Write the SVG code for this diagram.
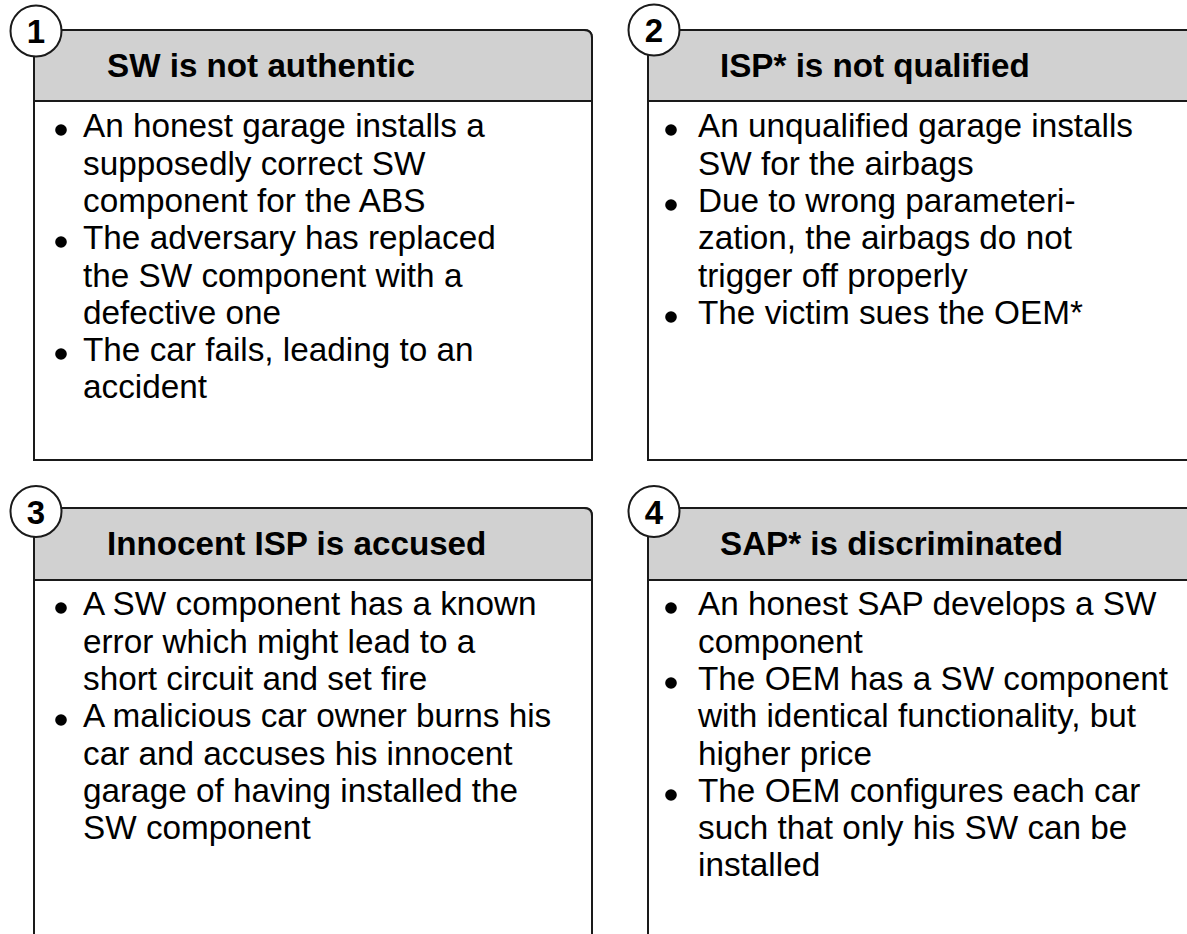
<svg xmlns="http://www.w3.org/2000/svg" width="1187" height="934" viewBox="0 0 1187 934">
  <defs>
    <style>
      .frame { fill: #ffffff; stroke: #1a1a1a; stroke-width: 2; }
      .head { fill: #d1d1d1; stroke: #1a1a1a; stroke-width: 2; }
      .badge { fill: #ffffff; stroke: #1a1a1a; stroke-width: 2; }
      .num { font-family: "Liberation Sans", Arial, sans-serif; font-weight: bold; font-size: 33px; fill: #000; text-anchor: middle; }
      .title { font-family: "Liberation Sans", Arial, sans-serif; font-weight: bold; font-size: 33.2px; fill: #000; }
      .body { font-family: "Liberation Sans", Arial, sans-serif; font-size: 33.3px; fill: #000; }
      .dot { fill: #000; }
    </style>
  </defs>

  <rect width="1187" height="934" fill="#ffffff"/>

  <!-- Panel 1 -->
  <g id="panel1">
    <path class="frame" d="M34,460 V38 Q34,30 42,30 H584 Q592,30 592,38 V460 Z"/>
    <path class="head" d="M34,101 V38 Q34,30 42,30 H584 Q592,30 592,38 V101 Z"/>
    <circle class="badge" cx="36" cy="31" r="25.5"/>
    <text class="num" x="36" y="43">1</text>
    <text class="title" x="107" y="77">SW is not authentic</text>
    <circle class="dot" cx="61" cy="130" r="5.8"/>
    <circle class="dot" cx="61" cy="242" r="5.8"/>
    <circle class="dot" cx="61" cy="354" r="5.8"/>
    <text class="body" x="83">
      <tspan x="83" y="137">An honest garage installs a</tspan>
      <tspan x="83" y="174.5">supposedly correct SW</tspan>
      <tspan x="83" y="212">component for the ABS</tspan>
      <tspan x="83" y="249">The adversary has replaced</tspan>
      <tspan x="83" y="286.5">the SW component with a</tspan>
      <tspan x="83" y="324">defective one</tspan>
      <tspan x="83" y="361">The car fails, leading to an</tspan>
      <tspan x="83" y="398">accident</tspan>
    </text>
  </g>

  <!-- Panel 2 -->
  <g id="panel2">
    <path class="frame" d="M648,460 V38 Q648,30 656,30 H1198 Q1206,30 1206,38 V460 Z"/>
    <path class="head" d="M648,101 V38 Q648,30 656,30 H1198 Q1206,30 1206,38 V101 Z"/>
    <circle class="badge" cx="654" cy="30" r="25.5"/>
    <text class="num" x="654" y="42">2</text>
    <text class="title" x="720" y="77">ISP* is not qualified</text>
    <circle class="dot" cx="671" cy="130" r="5.8"/>
    <circle class="dot" cx="671" cy="205" r="5.8"/>
    <circle class="dot" cx="671" cy="317" r="5.8"/>
    <text class="body" x="698">
      <tspan x="698" y="137">An unqualified garage installs</tspan>
      <tspan x="698" y="174.5">SW for the airbags</tspan>
      <tspan x="698" y="212">Due to wrong parameteri-</tspan>
      <tspan x="698" y="249">zation, the airbags do not</tspan>
      <tspan x="698" y="286.5">trigger off properly</tspan>
      <tspan x="698" y="324">The victim sues the OEM*</tspan>
    </text>
  </g>

  <!-- Panel 3 -->
  <g id="panel3">
    <path class="frame" d="M34,960 V516 Q34,508 42,508 H584 Q592,508 592,516 V960 Z"/>
    <path class="head" d="M34,580 V516 Q34,508 42,508 H584 Q592,508 592,516 V580 Z"/>
    <circle class="badge" cx="36" cy="511.5" r="25.5"/>
    <text class="num" x="36" y="523.5">3</text>
    <text class="title" x="107" y="555">Innocent ISP is accused</text>
    <circle class="dot" cx="61" cy="608" r="5.8"/>
    <circle class="dot" cx="61" cy="720" r="5.8"/>
    <text class="body" x="83">
      <tspan x="83" y="615">A SW component has a known</tspan>
      <tspan x="83" y="652.5">error which might lead to a</tspan>
      <tspan x="83" y="690">short circuit and set fire</tspan>
      <tspan x="83" y="727">A malicious car owner burns his</tspan>
      <tspan x="83" y="764.5">car and accuses his innocent</tspan>
      <tspan x="83" y="802">garage of having installed the</tspan>
      <tspan x="83" y="839">SW component</tspan>
    </text>
  </g>

  <!-- Panel 4 -->
  <g id="panel4">
    <path class="frame" d="M648,960 V516 Q648,508 656,508 H1198 Q1206,508 1206,516 V960 Z"/>
    <path class="head" d="M648,580 V516 Q648,508 656,508 H1198 Q1206,508 1206,516 V580 Z"/>
    <circle class="badge" cx="654" cy="511.5" r="25.5"/>
    <text class="num" x="654" y="523.5">4</text>
    <text class="title" x="720" y="555">SAP* is discriminated</text>
    <circle class="dot" cx="671" cy="608" r="5.8"/>
    <circle class="dot" cx="671" cy="683" r="5.8"/>
    <circle class="dot" cx="671" cy="795" r="5.8"/>
    <text class="body" x="698">
      <tspan x="698" y="615">An honest SAP develops a SW</tspan>
      <tspan x="698" y="652.5">component</tspan>
      <tspan x="698" y="690">The OEM has a SW component</tspan>
      <tspan x="698" y="727">with identical functionality, but</tspan>
      <tspan x="698" y="764.5">higher price</tspan>
      <tspan x="698" y="802">The OEM configures each car</tspan>
      <tspan x="698" y="839">such that only his SW can be</tspan>
      <tspan x="698" y="876">installed</tspan>
    </text>
  </g>

  <!-- no connectors in this figure -->
  <g id="connectors"/>
</svg>
